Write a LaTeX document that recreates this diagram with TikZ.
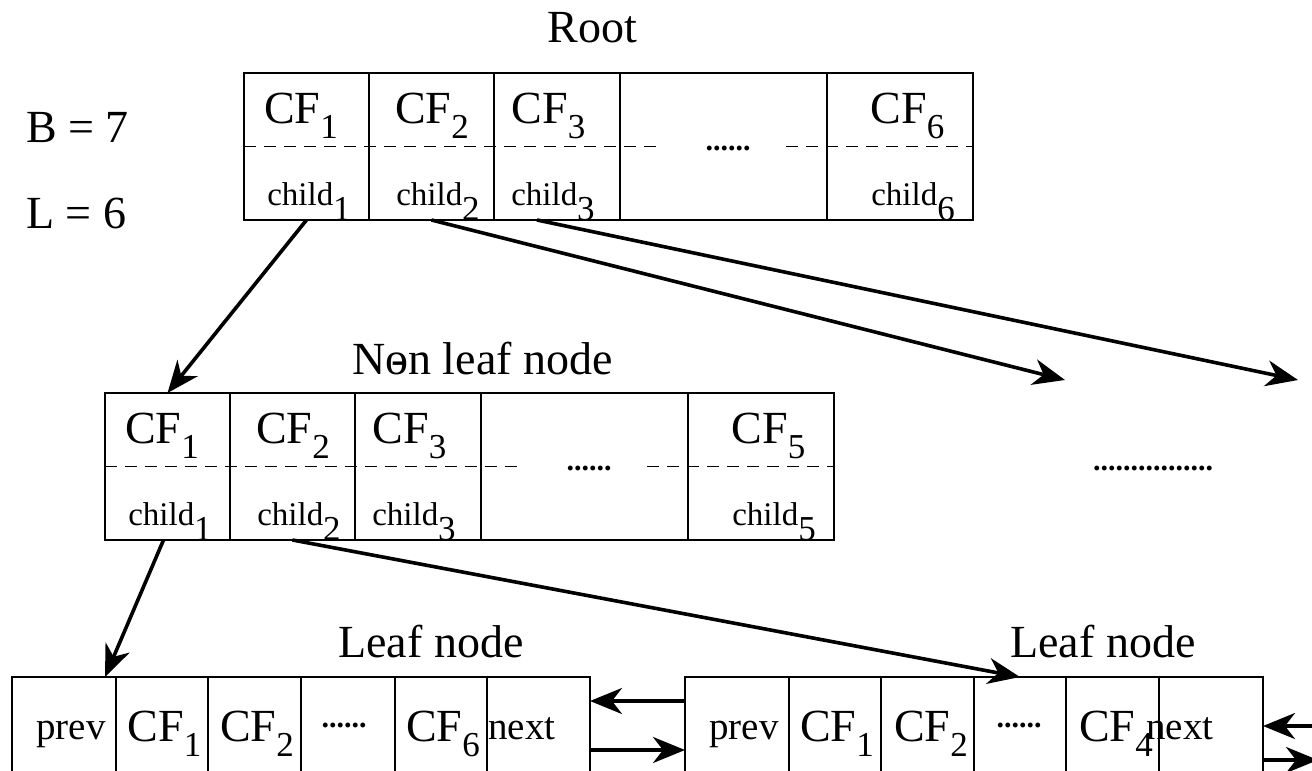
\documentclass[tikz,border=0pt]{standalone}
\usepackage{fontspec}
\setmainfont{Liberation Serif}
\usepackage{graphicx}
\usetikzlibrary{arrows.meta}
\newcommand{\idx}[1]{\raisebox{-15pt}{\fontsize{35}{35}\selectfont #1}}

\begin{document}
\begin{tikzpicture}[x=1pt,y=-1pt,
  cell/.style={draw,line width=1.6pt,inner sep=0pt,outer sep=0pt,minimum height=147pt},
  leafcell/.style={cell,minimum height=150pt},
  big/.style={font=\fontsize{46}{50}\selectfont,inner sep=0pt,anchor=base},
  small/.style={font=\fontsize{33}{36}\selectfont,inner sep=0pt,anchor=base},
  mid/.style={font=\fontsize{39}{42}\selectfont,inner sep=0pt,anchor=base},
  dots/.style={font=\fontsize{30}{32}\selectfont\bfseries,inner sep=0pt,anchor=base},
  sep/.style={line width=1.8pt,dash pattern=on 12pt off 8pt},
  link/.style={line width=3.6pt,-{Stealth[length=32pt,width=26pt,inset=10pt]}}]
\useasboundingbox (0,0) rectangle (1312,771);
\clip (0,0) rectangle (1312,771);

% labels
\node[big] (root) at (592.5,42) {Root};
\node[big,anchor=base west] (bval) at (26,142) {B = 7};
\node[big,anchor=base west] (lval) at (26,228) {L = 6};
\node[big] (nonleaf) at (482.5,374) {N\rlap{\kern6pt-}on leaf node};
\node[big] (leafA) at (431,657) {Leaf node};
\node[big] (leafB) at (1103,657) {Leaf node};

% root node
\node[cell,minimum width=125pt] (r1) at (306.5,146.5) {};
\node[cell,minimum width=125pt] (r2) at (431.5,146.5) {};
\node[cell,minimum width=126pt] (r3) at (557,146.5) {};
\node[cell,minimum width=207pt] (r4) at (723.5,146.5) {};
\node[cell,minimum width=146pt] (r5) at (900,146.5) {};
\draw[sep] (r1.west) -- ([xshift=41pt]r4.west) ([xshift=-41pt]r5.west) -- (r5.east);
\node[big] (r1t) at (301,123) {CF\idx{1}};
\node[big] (r2t) at (432,123) {CF\idx{2}};
\node[big] (r3t) at (548.5,123) {CF\idx{3}};
\node[big] (r5t) at (907.5,123) {CF\idx{6}};
\node[dots] (r4t) at (728,150) {......};
\node[small] (r1c) at (309,205) {child\idx{1}};
\node[small] (r2c) at (438,205) {child\idx{2}};
\node[small] (r3c) at (553,205) {child\idx{3}};
\node[small] (r5c) at (913,205) {child\idx{6}};

% non leaf node
\node[cell,minimum width=125pt] (n1) at (167.5,466.5) {};
\node[cell,minimum width=125pt] (n2) at (292.5,466.5) {};
\node[cell,minimum width=126pt] (n3) at (418,466.5) {};
\node[cell,minimum width=207pt] (n4) at (584.5,466.5) {};
\node[cell,minimum width=146pt] (n5) at (761,466.5) {};
\draw[sep] (n1.west) -- ([xshift=41pt]n4.west) ([xshift=-41pt]n5.west) -- (n5.east);
\node[big] (n1t) at (162,443) {CF\idx{1}};
\node[big] (n2t) at (293,443) {CF\idx{2}};
\node[big] (n3t) at (409.5,443) {CF\idx{3}};
\node[big] (n5t) at (768.5,443) {CF\idx{5}};
\node[dots] (n4t) at (589,470) {......};
\node[small] (n1c) at (170,525) {child\idx{1}};
\node[small] (n2c) at (299,525) {child\idx{2}};
\node[small] (n3c) at (414,525) {child\idx{3}};
\node[small] (n5c) at (774,525) {child\idx{5}};
\node[dots] (more) at (1153,470) {................};

% leaf nodes
\node[leafcell,minimum width=104pt] (a1) at (64,752) {};
\node[leafcell,minimum width=92pt] (a2) at (162,752) {};
\node[leafcell,minimum width=93pt] (a3) at (254.5,752) {};
\node[leafcell,minimum width=94pt] (a4) at (348,752) {};
\node[leafcell,minimum width=92pt] (a5) at (441,752) {};
\node[leafcell,minimum width=103pt] (a6) at (538.5,752) {};
\node[mid] (a1t) at (71,739) {prev};
\node[big] (a2t) at (164.5,741) {CF\idx{1}};
\node[big] (a3t) at (257,741) {CF\idx{2}};
\node[dots] (a4t) at (344,727) {......};
\node[big] (a5t) at (443,741) {CF\idx{6}};
\node[mid,anchor=base west] (a6t) at (488,739) {next};

\node[leafcell,minimum width=104pt] (b1) at (737,752) {};
\node[leafcell,minimum width=92pt] (b2) at (835,752) {};
\node[leafcell,minimum width=93pt] (b3) at (927.5,752) {};
\node[leafcell,minimum width=92pt] (b4) at (1020,752) {};
\node[leafcell,minimum width=93pt] (b5) at (1112.5,752) {};
\node[leafcell,minimum width=104pt] (b6) at (1211,752) {};
\node[mid] (b1t) at (744,739) {prev};
\node[big] (b2t) at (837,741) {CF\idx{1}};
\node[big] (b3t) at (931,741) {CF\idx{2}};
\node[dots] (b4t) at (1019,727) {......};
\node[big] (b5t) at (1116,741) {CF\idx{4}};
\node[mid,anchor=base west] (b6t) at (1146,739) {next};

% arrows
\coordinate (e2) at (1065,380);
\coordinate (e3) at (1298,380);
\coordinate (o1) at (1330,726);
\coordinate (o2) at (1318,760);
\draw[link] (r1.south) -- (n1.north);
\draw[link] (r2.south) -- (e2);
\draw[link] ([xshift=-20pt]r3.south) -- (e3);
\draw[link] ([xshift=-4pt]n1.south) -- ([xshift=-11pt]a1.north east);
\draw[link] (n2.south) -- (b4.north);
\draw[link] ([yshift=-24pt]b1.north west) -- ([yshift=-24pt]a6.north east);
\draw[link] ([yshift=-73pt]a6.north east) -- ([yshift=-73pt]b1.north west);
\draw[link] (o1) -- ([yshift=-49pt]b6.north east);
\draw[link] ([yshift=-83pt]b6.north east) -- (o2);
\end{tikzpicture}
\end{document}
